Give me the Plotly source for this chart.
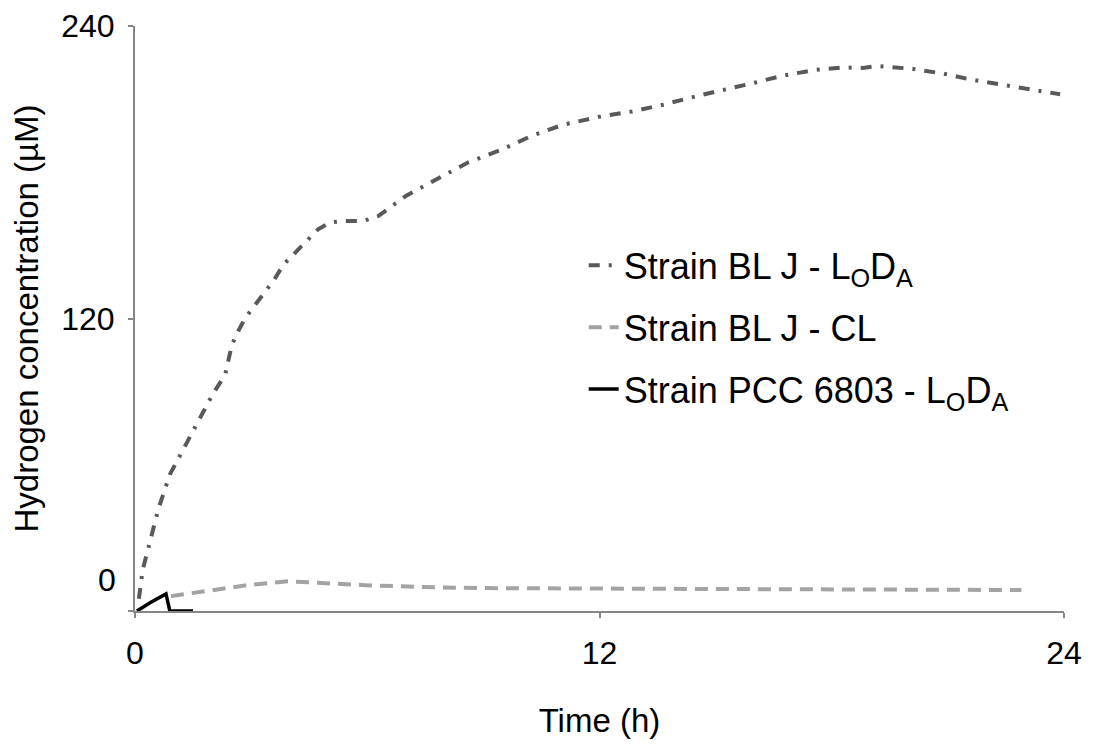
import plotly.graph_objects as go

# --- data ---
blj_lod_time = [0.1, 0.2, 0.39, 0.6, 0.9, 1.3, 1.73, 2.0, 2.33, 2.4, 2.5, 2.63, 2.84, 3.1, 3.36,
                3.6, 3.83, 4.13, 4.44, 4.73, 5.04, 5.37, 5.9, 6.28, 7.02, 7.83, 8.6, 9.43,
                10.26, 11.06, 12.0, 12.87, 13.64, 14.55, 15.3, 16.0, 16.7, 17.57, 18.27,
                18.8, 19.17, 19.45, 20.1, 20.9, 21.6, 22.4, 23.2, 23.9]
blj_lod_h2 = [5, 17, 28.6, 41.7, 56, 68, 80.5, 88.7, 97, 102, 109, 113.7, 120, 125.5, 131,
              136, 142, 147, 152, 156.6, 159.4, 160, 160, 162, 170.5, 177.4, 184, 189,
              195, 199.5, 202.8, 205, 207.7, 211.4, 214, 216.7, 219.5, 222, 223,
              222.8, 223.6, 223.2, 222.4, 220.4, 218, 215.9, 213.8, 212]

blj_cl_time = [0.93, 1.83, 2.9, 3.95, 4.7, 5.94, 7.45, 8.96, 12.0, 15.0, 18.0, 21.1, 22.9]
blj_cl_h2 = [6.1, 8.2, 10.6, 12.2, 11.5, 10.6, 9.8, 9.4, 9.2, 9.1, 9.0, 8.6, 8.6]

pcc_time = [0.05, 0.4, 0.8, 0.9, 1.5]
pcc_h2 = [0, 3.5, 7, 0, 0]

x_ticks = [0, 12, 24]
y_ticks = [0, 120, 240]
y_ticktext = ["", "120", "240"]

FONT = "Liberation Sans, Arial, sans-serif"

fig = go.Figure()
fig.add_trace(go.Scatter(
    x=blj_lod_time, y=blj_lod_h2, mode="lines",
    name="Strain BL J - L<sub>O</sub>D<sub>A</sub>",
    line=dict(color="#595959", width=4, dash="11px,9px,3px,9px"),
    legendgroup="a"))
fig.add_trace(go.Scatter(
    x=blj_cl_time, y=blj_cl_h2, mode="lines",
    name="Strain BL J - CL",
    line=dict(color="#a3a3a3", width=4, dash="13px,8px"),
    legendgroup="b"))
fig.add_trace(go.Scatter(
    x=pcc_time, y=pcc_h2, mode="lines",
    name="Strain PCC 6803 - L<sub>O</sub>D<sub>A</sub>",
    line=dict(color="#000000", width=3.5),
    legendgroup="c"))

fig.update_layout(
    width=1107, height=751,
    margin=dict(l=127, r=51, t=18, b=148),
    paper_bgcolor="white", plot_bgcolor="white",
    font=dict(family=FONT, size=32, color="#000000"),
    showlegend=True,
    legend=dict(x=0.483, y=0.642, xanchor="left", yanchor="top",
                font=dict(size=36), tracegroupgap=12, itemwidth=30,
                bgcolor="rgba(0,0,0,0)"),
    xaxis=dict(range=[0, 24], tickvals=x_ticks, ticks="outside", ticklen=5,
               tickcolor="#868686", tickwidth=2, ticklabelstandoff=8,
               showline=True, linecolor="#868686", linewidth=2,
               showgrid=False, zeroline=False, automargin=False,
               ticklabeloverflow="allow",
               title=dict(text="Time (h)", standoff=38, font=dict(size=33))),
    yaxis=dict(range=[0, 240], tickvals=y_ticks, ticktext=y_ticktext,
               ticks="outside", ticklen=5, tickcolor="#868686", tickwidth=2,
               ticklabelstandoff=7, automargin=False,
               ticklabeloverflow="allow",
               showline=True, linecolor="#868686", linewidth=2,
               showgrid=False, zeroline=False,
               title=dict(text="Hydrogen concentration (µM)", standoff=15,
                          font=dict(size=33))),
    annotations=[dict(text="0", x=0, xref="paper", y=12.7, yref="y",
                      xanchor="right", yanchor="middle", xshift=-17,
                      showarrow=False, font=dict(size=32))],
)

fig.write_html("out.html")
